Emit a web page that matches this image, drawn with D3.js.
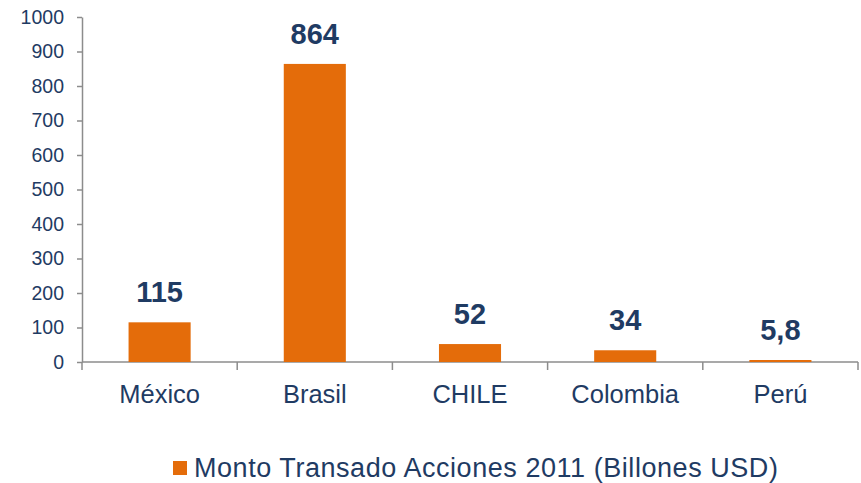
<!DOCTYPE html>
<html>
<head>
<meta charset="utf-8">
<script src="https://cdn.jsdelivr.net/npm/d3@7"></script>
<style>
  body { margin: 0; background: #fff; }
  svg text { font-family: "Liberation Sans", Arial, sans-serif; }
</style>
</head>
<body>
<div id="chart"></div>
<script>
// data
var paises = ["México", "Brasil", "CHILE", "Colombia", "Perú"];
var montos = [115, 864, 52, 34, 5.8];
var etiquetas = ["115", "864", "52", "34", "5,8"];
var yTicks = [0, 100, 200, 300, 400, 500, 600, 700, 800, 900, 1000];
var serie = "Monto Transado Acciones 2011 (Billones USD)";

var width = 861, height = 483;
var mLeft = 82, mRight = 858, mTop = 17, mBottom = 362;

var NAVY = "#1F3B63", ORANGE = "#E46C0A", GRAY = "#8C8C8C";

var svg = d3.select("#chart").append("svg")
    .attr("width", width)
    .attr("height", height);

var x = d3.scaleBand()
    .domain(paises)
    .range([mLeft, mRight])
    .paddingInner(0.6)
    .paddingOuter(0.3);

var y = d3.scaleLinear()
    .domain([0, 1000])
    .range([mBottom, mTop]);

// y axis
var yAxis = svg.append("g")
    .attr("transform", "translate(" + mLeft + ",0)")
    .call(d3.axisLeft(y).tickValues(yTicks).tickFormat(d3.format("d"))
      .tickSize(5).tickSizeOuter(0).tickPadding(13));
yAxis.select(".domain").attr("stroke", GRAY).attr("stroke-width", 1.5);
yAxis.selectAll(".tick line").attr("stroke", GRAY).attr("stroke-width", 1.5);
yAxis.selectAll(".tick text")
    .attr("fill", NAVY)
    .style("font-size", "19.5px");

// x axis line and boundary ticks
var step = (mRight - mLeft) / paises.length;
svg.append("line")
    .attr("x1", mLeft).attr("x2", mRight)
    .attr("y1", mBottom).attr("y2", mBottom)
    .attr("stroke", GRAY).attr("stroke-width", 1.5);
svg.selectAll(".xb")
  .data(d3.range(paises.length + 1))
  .enter().append("line")
    .attr("class", "xb")
    .attr("x1", function(i) { return mLeft + i * step; })
    .attr("x2", function(i) { return mLeft + i * step; })
    .attr("y1", mBottom).attr("y2", mBottom + 8)
    .attr("stroke", GRAY).attr("stroke-width", 1.5);

// category labels
svg.selectAll(".cat")
  .data(paises)
  .enter().append("text")
    .attr("class", "cat")
    .attr("x", function(d) { return x(d) + x.bandwidth() / 2; })
    .attr("y", 403)
    .attr("text-anchor", "middle")
    .attr("fill", NAVY)
    .style("font-size", "25.5px")
    .text(function(d) { return d; });

// bars
svg.selectAll(".bar")
  .data(montos)
  .enter().append("rect")
    .attr("class", "bar")
    .attr("x", function(d, i) { return x(paises[i]); })
    .attr("width", x.bandwidth())
    .attr("y", function(d) { return y(d); })
    .attr("height", function(d) { return mBottom - y(d); })
    .attr("fill", ORANGE);

// value labels
svg.selectAll(".val")
  .data(montos)
  .enter().append("text")
    .attr("class", "val")
    .attr("x", function(d, i) { return x(paises[i]) + x.bandwidth() / 2; })
    .attr("y", function(d) { return y(d) - 20; })
    .attr("text-anchor", "middle")
    .attr("fill", NAVY)
    .style("font-size", "29px")
    .style("font-weight", "bold")
    .text(function(d, i) { return etiquetas[i]; });

// legend
var lg = svg.append("g").attr("transform", "translate(173,476.5)");
lg.append("rect")
    .attr("x", 0).attr("y", -15.5)
    .attr("width", 14).attr("height", 14)
    .attr("fill", ORANGE);
lg.append("text")
    .attr("x", 21).attr("y", 0)
    .attr("fill", NAVY)
    .style("font-size", "27px")
    .style("letter-spacing", "0.55px")
    .text(serie);
</script>
</body>
</html>
